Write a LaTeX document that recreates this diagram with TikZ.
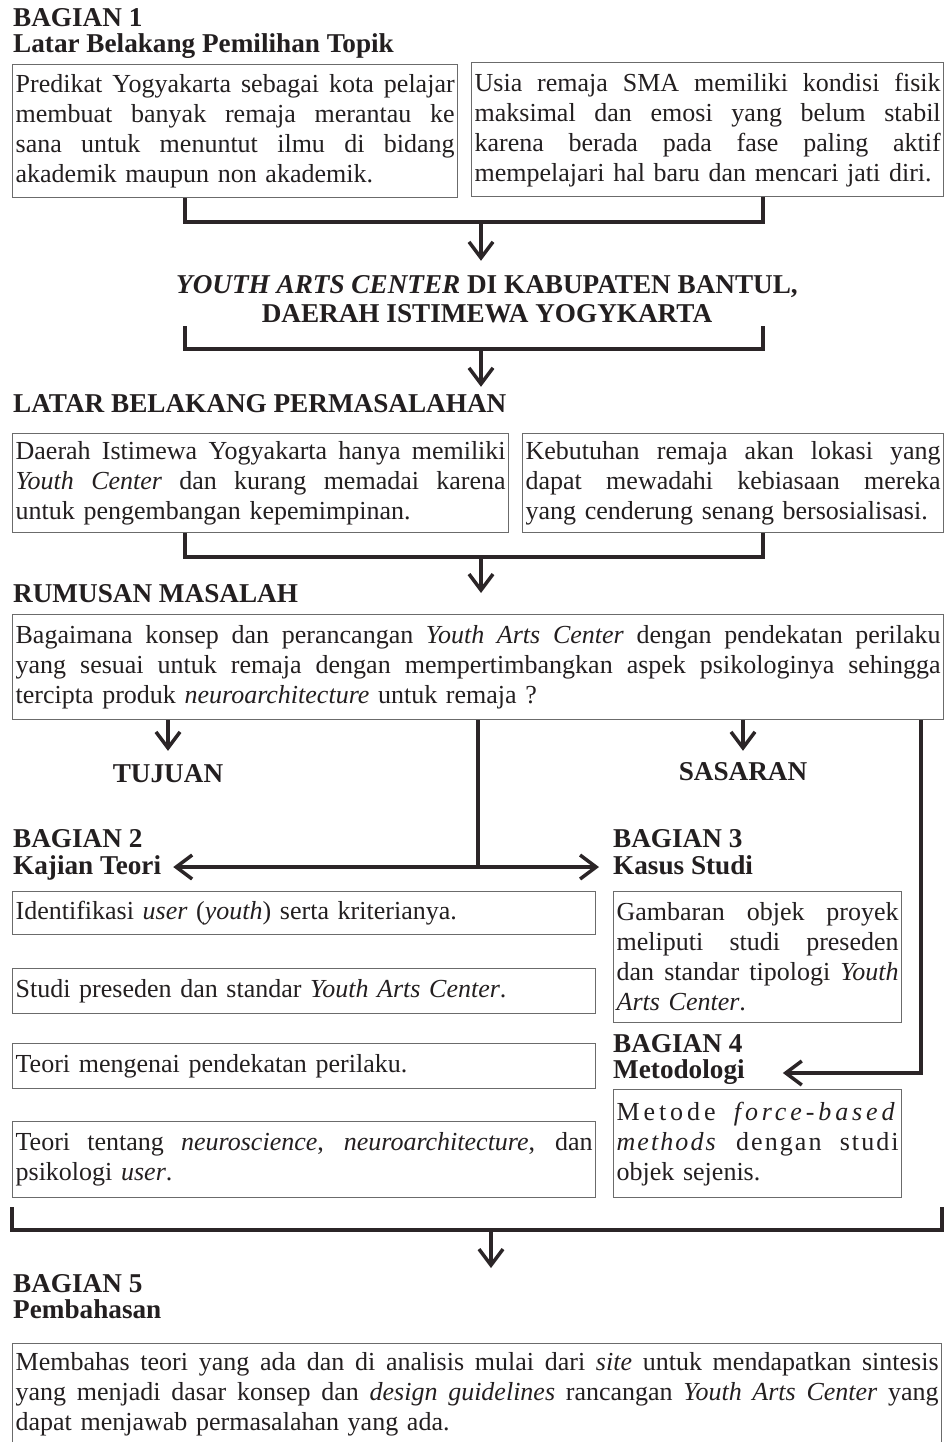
\documentclass[tikz,border=0pt]{standalone}
\usepackage{fontspec}
\setmainfont{Liberation Serif}
\usetikzlibrary{positioning,arrows.meta,calc}
\definecolor{ink}{HTML}{2B2527}
\definecolor{rulegray}{HTML}{6B6B6B}
\definecolor{txt}{HTML}{231F20}
\newcommand{\jline}[1]{{\spaceskip=0pt\xspaceskip=0pt\makebox[\hsize][s]{#1}}}

\begin{document}
\begin{tikzpicture}[
  x=1pt, y=-1pt,
  font=\fontsize{26}{30}\selectfont, text=txt,
  box/.style={draw=rulegray, line width=1.3pt, anchor=north west, inner xsep=3pt, inner ysep=0pt},
  head/.style={font=\fontsize{27.2}{30}\selectfont\bfseries, anchor=base west, inner sep=0pt},
  mid/.style={head, anchor=base},
  conn/.style={draw=ink, line width=3.5pt, line join=miter},
  arr/.style={conn, -{Straight Barb[length=16pt, width=24pt]}},
]
\fill[white] (0,0) rectangle (944,1442);
\useasboundingbox (0,0) rectangle (944,1442);
\clip (0,0) rectangle (944,1442);
% ---- bagian 1 ----
\node[head] (h1) at (13,27) {BAGIAN 1};
\node[head] (h1t) at (13,53) {Latar Belakang Pemilihan Topik};
\node[box, text width=439pt, minimum height=133pt] (b1) at (12,64)
  {\jline{Predikat Yogyakarta sebagai kota pelajar}\\
   \jline{membuat banyak remaja merantau ke}\\
   \jline{sana untuk menuntut ilmu di bidang}\\
   akademik maupun non akademik.};
\node[box, text width=466pt, minimum height=134pt] (b2) at (471,62)
  {\jline{Usia remaja SMA memiliki kondisi fisik}\\
   \jline{maksimal dan emosi yang belum stabil}\\
   \jline{karena berada pada fase paling aktif}\\
   mempelajari hal baru dan mencari jati diri.};
\coordinate (k1l) at (185,222);
\coordinate (k1m) at (481,222);
\coordinate (k1r) at (763,222);
\draw[conn] (b1.south -| k1l) |- (k1m) -| (b2.south -| k1r);
% ---- judul ----
\node[mid] (title) at (487,293) {\textit{YOUTH ARTS CENTER} DI KABUPATEN BANTUL,};
\node[mid] (title2) at (487,322) {DAERAH ISTIMEWA YOGYKARTA};
\draw[arr, shorten >=14pt] (k1m) -- (k1m |- title.north);
\coordinate (k2l) at (185,326);
\coordinate (k2m) at (481,349);
\coordinate (k2r) at (763,326);
\draw[conn] (k2l) |- (k2m) -| (k2r);
% ---- latar belakang permasalahan ----
\node[head] (lbp) at (13,412) {LATAR BELAKANG PERMASALAHAN};
\draw[arr, shorten >=7pt] (k2m) -- (k2m |- lbp.north);
\node[box, text width=490pt, minimum height=99pt] (b3) at (12,433)
  {\jline{Daerah Istimewa Yogyakarta hanya memiliki}\\
   \jline{\textit{Youth Center} dan kurang memadai karena}\\
   untuk pengembangan kepemimpinan.};
\node[box, text width=415pt, minimum height=99pt] (b4) at (522,433)
  {\jline{Kebutuhan remaja akan lokasi yang}\\
   \jline{dapat mewadahi kebiasaan mereka}\\
   yang cenderung senang bersosialisasi.};
\coordinate (k3l) at (185,557);
\coordinate (k3m) at (481,557);
\coordinate (k3r) at (763,557);
\draw[conn] (b3.south -| k3l) |- (k3m) -| (b4.south -| k3r);
% ---- rumusan masalah ----
\node[head] (rm) at (13,602) {RUMUSAN MASALAH};
\node[box, text width=925pt, minimum height=105pt] (b5) at (12,614)
  {\jline{Bagaimana konsep dan perancangan \textit{Youth Arts Center} dengan pendekatan perilaku}\\
   \jline{yang sesuai untuk remaja dengan mempertimbangkan aspek psikologinya sehingga}\\
   tercipta produk \textit{neuroarchitecture} untuk remaja ?};
\draw[arr, shorten >=21pt] (k3m) -- (k3m |- b5.north);
% ---- tujuan / sasaran ----
\node[mid] (tuj) at (168,782) {TUJUAN};
\node[mid] (sas) at (743,780) {SASARAN};
\draw[arr, shorten >=13pt] (b5.south -| tuj.north) -- (tuj.north);
\draw[arr, shorten >=11pt] (b5.south -| sas.north) -- (sas.north);
% ---- bagian 2 & 3 ----
\node[head] (h2) at (13,847) {BAGIAN 2};
\node[head] (kt) at (13,874) {Kajian Teori};
\node[head] (h3) at (613,847) {BAGIAN 3};
\node[head] (ks) at (613,874) {Kasus Studi};
\coordinate (jc) at (478,867);
\draw[conn] (b5.south -| jc) -- (jc);
\draw[arr, shorten >=12pt] (jc) -- (jc -| kt.east);
\draw[arr, shorten >=14pt] (jc) -- (jc -| ks.west);
\node[box, text width=577pt, minimum height=43pt] (l1) at (12,891)
  {Identifikasi \textit{user} (\textit{youth}) serta kriterianya.};
\node[box, text width=577pt, minimum height=45pt] (l2) at (12,968)
  {Studi preseden dan standar \textit{Youth Arts Center}.};
\node[box, text width=577pt, minimum height=45pt] (l3) at (12,1043)
  {Teori mengenai pendekatan perilaku.};
\node[box, text width=577pt, minimum height=76pt] (l4) at (12,1121)
  {\jline{Teori tentang \textit{neuroscience}, \textit{neuroarchitecture}, dan}\\
   psikologi \textit{user}.};
\node[box, text width=282pt, minimum height=131pt] (r1) at (613,891)
  {\jline{Gambaran objek proyek}\\
   \jline{meliputi studi preseden}\\
   \jline{dan standar tipologi \textit{Youth}}\\
   \textit{Arts Center}.};
% ---- bagian 4 ----
\node[head] (h4) at (613,1052) {BAGIAN 4};
\node[head] (met) at (613,1078) {Metodologi};
\coordinate (jr) at (921,1073);
\draw[arr, shorten >=38pt] (b5.south -| jr) |- (jr -| met.east);
\node[box, text width=282pt, minimum height=108pt] (r2) at (613,1089)
  {\jline{\addfontfeature{LetterSpace=15}Metode \textit{force-based}}\\
   \jline{\addfontfeature{LetterSpace=8}\textit{methods} dengan studi}\\
   objek sejenis.};
% ---- bagian 5 ----
\coordinate (k4l) at (12,1207);
\coordinate (k4m) at (491,1230);
\coordinate (k4r) at (942,1207);
\coordinate (k4t) at (491,1268);
\draw[conn] (k4l) |- (k4m) -| (k4r);
\draw[arr] (k4m) -- (k4t);
\node[head] (h5) at (13,1292) {BAGIAN 5};
\node[head] (pb) at (13,1318) {Pembahasan};
\node[box, text width=923pt, minimum height=102pt] (b6) at (12,1343)
  {\jline{Membahas teori yang ada dan di analisis mulai dari \textit{site} untuk mendapatkan sintesis}\\
   \jline{yang menjadi dasar konsep dan \textit{design guidelines} rancangan \textit{Youth Arts Center} yang}\\
   dapat menjawab permasalahan yang ada.};
\end{tikzpicture}
\end{document}
